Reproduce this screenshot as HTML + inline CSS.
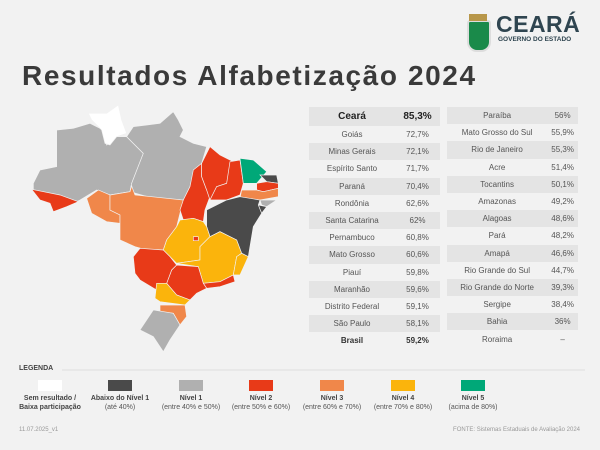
<!DOCTYPE html><html><head><meta charset="utf-8"><style>
body{margin:0;width:600px;height:450px;background:#f2f2f2;font-family:"Liberation Sans",sans-serif;color:#444;position:relative;overflow:hidden}
.t{position:absolute;left:22px;top:60px;font-size:28px;font-weight:bold;color:#3a3a3a;letter-spacing:1.6px}
table{position:absolute;border-collapse:collapse;font-size:8px;color:#555}
td{text-align:center;height:17.2px;padding:0}
tr.s td{background:#e4e4e4}
.lg{position:absolute;top:394px;width:90px;text-align:center;font-size:7px;color:#555;line-height:9px}
.lg b{display:block;color:#444}
.sw{position:absolute;top:380px;width:24px;height:11px}
</style></head><body>
<div style="position:absolute;left:467px;top:20px;width:20px;height:28px;background:#1a8a4a;border-radius:3px 3px 10px 10px;border:2px solid #ddd"></div>
<div style="position:absolute;left:469px;top:14px;width:18px;height:7px;background:#b8974a"></div>
<div style="position:absolute;left:496px;top:11px;font-size:23px;font-weight:bold;color:#2f4550;letter-spacing:0.5px">CEARÁ</div>
<div style="position:absolute;left:498px;top:36px;font-size:6.5px;font-weight:bold;color:#2f4550">GOVERNO DO ESTADO</div>
<div class="t">Resultados Alfabetização 2024</div>
<svg style="position:absolute;left:0;top:0" width="600" height="450"><g transform="translate(20,100) scale(0.3333)" stroke="#f2f2f2" stroke-width="2">
<polygon fill="#b0b0b0" points="40,250 60,210 110,200 110,90 160,85 210,70 250,90 260,135 290,110 320,110 340,130 370,160 335,250 330,275 270,285 230,270 180,300 170,305 120,290 40,270"/>
<polygon fill="#ffffff" points="205,40 260,40 295,15 305,60 320,100 290,110 270,135 255,130 245,90 215,60"/>
<polygon fill="#b0b0b0" points="320,110 340,80 380,75 420,70 460,35 475,60 490,90 480,110 520,130 560,140 545,190 520,220 510,260 490,300 400,295 330,275 335,250 370,160 340,130"/>
<polygon fill="#e83a18" points="35,268 120,285 175,305 140,320 100,335 90,310 60,300"/>
<polygon fill="#f0874a" points="200,295 235,270 270,285 270,330 300,345 300,370 260,365 215,340"/>
<polygon fill="#f0874a" points="270,285 330,275 335,258 345,285 490,300 480,340 470,380 440,420 430,450 380,450 345,440 300,420 300,345 270,330"/>
<polygon fill="#e83a18" points="520,210 545,190 545,230 560,270 570,290 555,330 550,365 520,355 490,360 480,330 490,300 510,260"/>
<polygon fill="#e83a18" points="545,190 570,140 600,165 640,185 630,215 620,250 590,260 570,300 560,270 545,230"/>
<polygon fill="#e83a18" points="630,185 660,180 670,250 660,285 620,300 570,300 590,260 620,250"/>
<polygon fill="#00a878" points="660,175 700,180 740,215 710,250 670,250"/>
<polygon fill="#4a4a4a" points="720,225 770,225 775,250 740,245"/>
<polygon fill="#e83a18" points="710,250 740,245 775,250 775,265 730,275 710,270"/>
<polygon fill="#f0874a" points="665,270 710,270 730,275 775,265 775,290 720,300 660,295"/>
<polygon fill="#b0b0b0" points="720,300 770,300 740,320 725,315"/>
<polygon fill="#4a4a4a" points="715,315 740,320 725,340"/>
<polygon fill="#4a4a4a" points="560,330 620,300 660,290 720,300 715,315 725,340 700,380 685,470 665,460 650,420 600,395 570,410 560,380"/>
<polygon fill="#fbb40c" points="480,360 520,355 550,365 560,380 570,410 540,440 540,480 470,490 450,470 430,450 440,420 470,380"/>
<polygon fill="#e83a18" points="520,410 535,410 535,422 520,422"/>
<polygon fill="#fbb40c" points="540,440 570,410 600,395 650,420 665,460 650,470 640,525 600,545 550,550 535,500 470,490 540,480"/>
<polygon fill="#fbb40c" points="665,460 685,470 660,525 640,525 650,470"/>
<polygon fill="#e83a18" points="550,550 600,545 640,525 645,545 600,560 560,565"/>
<polygon fill="#e83a18" points="470,495 535,500 550,550 560,565 530,580 510,600 470,585 440,550 455,510"/>
<polygon fill="#e83a18" points="340,470 360,445 430,450 450,470 470,495 455,510 440,550 410,570 360,540 345,520"/>
<polygon fill="#fbb40c" points="410,550 440,550 470,585 510,600 495,615 420,605 405,595"/>
<polygon fill="#f0874a" points="420,615 495,615 500,650 480,675 460,640 420,635"/>
<polygon fill="#b0b0b0" points="400,630 460,640 480,675 450,720 430,755 400,710 360,690"/>
</g>
<line x1="62" y1="370" x2="585" y2="370" stroke="#ddd" stroke-width="1"/></svg>
<table style="left:309px;top:107px;width:131px">
<tr class="s"><td style="height:19px;font-size:10px;font-weight:bold;color:#222">Ceará</td><td style="font-size:10px;font-weight:bold;color:#222">85,3%</td></tr>
<tr><td>Goiás</td><td>72,7%</td></tr><tr class="s"><td>Minas Gerais</td><td>72,1%</td></tr>
<tr><td>Espírito Santo</td><td>71,7%</td></tr><tr class="s"><td>Paraná</td><td>70,4%</td></tr>
<tr><td>Rondônia</td><td>62,6%</td></tr><tr class="s"><td>Santa Catarina</td><td>62%</td></tr>
<tr><td>Pernambuco</td><td>60,8%</td></tr><tr class="s"><td>Mato Grosso</td><td>60,6%</td></tr>
<tr><td>Piauí</td><td>59,8%</td></tr><tr class="s"><td>Maranhão</td><td>59,6%</td></tr>
<tr><td>Distrito Federal</td><td>59,1%</td></tr><tr class="s"><td>São Paulo</td><td>58,1%</td></tr>
<tr><td style="font-weight:bold;color:#333">Brasil</td><td style="font-weight:bold;color:#333">59,2%</td></tr>
</table>
<table style="left:447px;top:107px;width:131px">
<tr class="s"><td>Paraíba</td><td>56%</td></tr><tr><td>Mato Grosso do Sul</td><td>55,9%</td></tr>
<tr class="s"><td>Rio de Janeiro</td><td>55,3%</td></tr><tr><td>Acre</td><td>51,4%</td></tr>
<tr class="s"><td>Tocantins</td><td>50,1%</td></tr><tr><td>Amazonas</td><td>49,2%</td></tr>
<tr class="s"><td>Alagoas</td><td>48,6%</td></tr><tr><td>Pará</td><td>48,2%</td></tr>
<tr class="s"><td>Amapá</td><td>46,6%</td></tr><tr><td>Rio Grande do Sul</td><td>44,7%</td></tr>
<tr class="s"><td>Rio Grande do Norte</td><td>39,3%</td></tr><tr><td>Sergipe</td><td>38,4%</td></tr>
<tr class="s"><td>Bahia</td><td>36%</td></tr><tr><td>Roraima</td><td>–</td></tr>
</table>
<div style="position:absolute;left:19px;top:365px;font-size:7px;font-weight:bold;color:#444">LEGENDA</div>
<div class="sw" style="left:38px;background:#fff"></div>
<div class="sw" style="left:108px;background:#4a4a4a"></div>
<div class="sw" style="left:179px;background:#b0b0b0"></div>
<div class="sw" style="left:249px;background:#e83a18"></div>
<div class="sw" style="left:320px;background:#f0874a"></div>
<div class="sw" style="left:391px;background:#fbb40c"></div>
<div class="sw" style="left:461px;background:#00a878"></div>
<div class="lg" style="left:5px"><b>Sem resultado /<br>Baixa participação</b></div>
<div class="lg" style="left:75px"><b>Abaixo do Nível 1</b>(até 40%)</div>
<div class="lg" style="left:146px"><b>Nível 1</b>(entre 40% e 50%)</div>
<div class="lg" style="left:216px"><b>Nível 2</b>(entre 50% e 60%)</div>
<div class="lg" style="left:287px"><b>Nível 3</b>(entre 60% e 70%)</div>
<div class="lg" style="left:358px"><b>Nível 4</b>(entre 70% e 80%)</div>
<div class="lg" style="left:428px"><b>Nível 5</b>(acima de 80%)</div>
<div style="position:absolute;left:19px;top:427px;font-size:6px;color:#999">11.07.2025_v1</div>
<div style="position:absolute;right:20px;top:427px;font-size:6px;color:#999">FONTE: Sistemas Estaduais de Avaliação 2024</div>
</body></html>
